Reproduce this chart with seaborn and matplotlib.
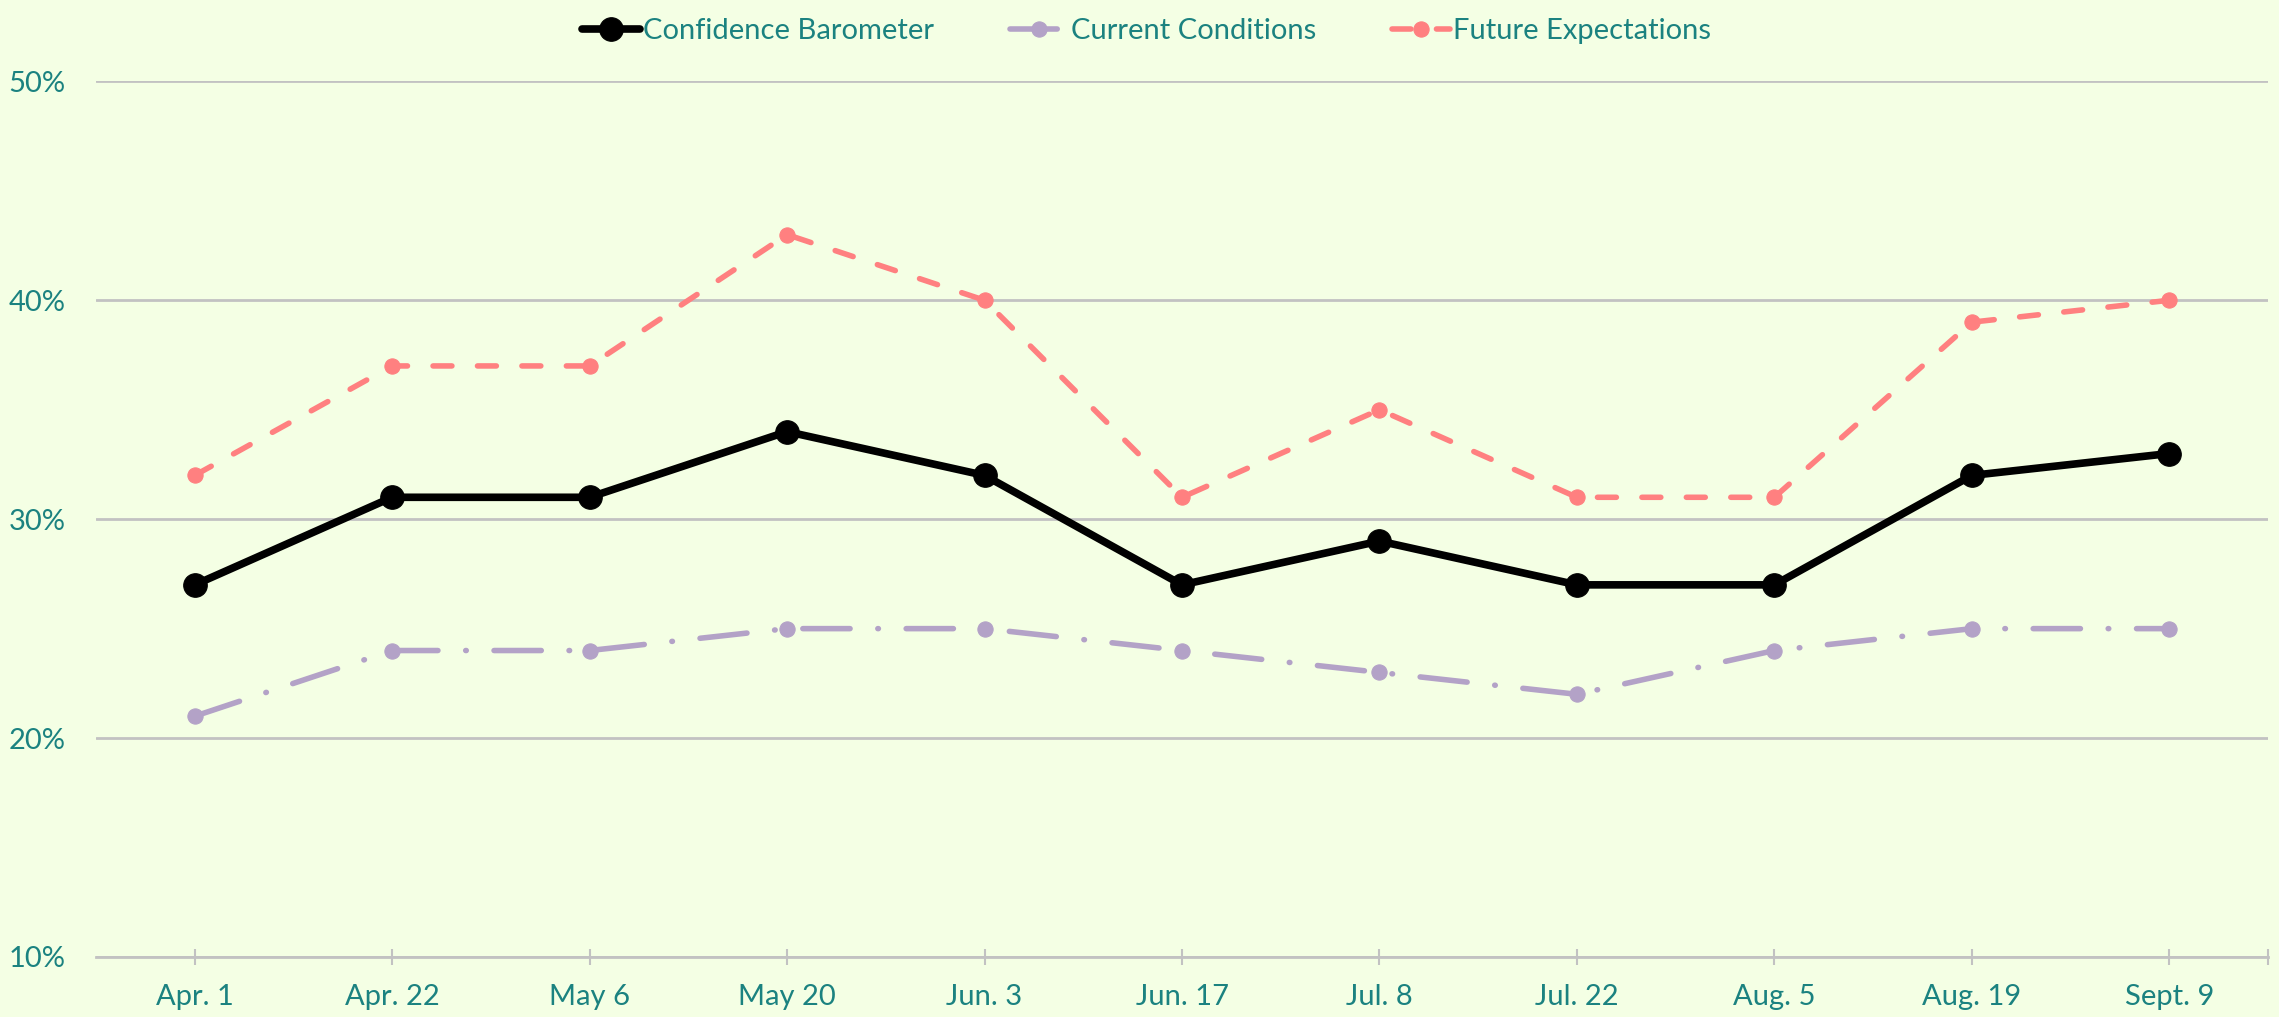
import numpy as np
import pandas as pd
import matplotlib
matplotlib.use("Agg")
import matplotlib.pyplot as plt
import seaborn as sns
from matplotlib.ticker import FuncFormatter

# ─── Data ──────────────────────────────────────────────────────────────────────

DATES = ["Apr. 1", "Apr. 22", "May 6", "May 20", "Jun. 3", "Jun. 17",
         "Jul. 8", "Jul. 22", "Aug. 5", "Aug. 19", "Sept. 9"]
CONFIDENCE = [27, 31, 31, 34, 32, 27, 29, 27, 27, 32, 33]
CURRENT = [21, 24, 24, 25, 25, 24, 23, 22, 24, 25, 25]
FUTURE = [32, 37, 37, 43, 40, 31, 35, 31, 31, 39, 40]
Y_TICKS = [10, 20, 30, 40, 50]

# ─── Style ─────────────────────────────────────────────────────────────────────

BG = "#F4FFE4"
TEXT = "#1B8280"
GRID = "#C2C2C2"

sns.set_theme(style="white")
plt.rcParams["font.family"] = ["Lato", "DejaVu Sans"]

df = pd.DataFrame({"date": DATES, "conf": CONFIDENCE,
                   "curr": CURRENT, "fut": FUTURE})

fig = plt.figure(figsize=(22.79, 10.17), dpi=100, facecolor=BG)
ax = fig.add_axes([0.0421, 0.059, 0.9531, 0.861])
ax.set_facecolor(BG)

sns.lineplot(data=df, x="date", y="conf", sort=False, ax=ax, color="black",
             lw=5.5, marker="o", ms=17, mec="black", solid_joinstyle="round",
             label="Confidence Barometer", zorder=5)
sns.lineplot(data=df, x="date", y="curr", sort=False, ax=ax, color="#B3A2C7",
             lw=4, marker="o", ms=11, mec="#B3A2C7", dashes=(8.5, 5, 0.1, 5),
             dash_capstyle="round", label="Current Conditions", zorder=4)
sns.lineplot(data=df, x="date", y="fut", sort=False, ax=ax, color="#FF8080",
             lw=4, marker="o", ms=11, mec="#FF8080", dashes=(3.4, 4.6),
             dash_capstyle="round", label="Future Expectations", zorder=4)

ax.set_xticks(np.arange(len(DATES)), labels=DATES)
ax.set_xticks([len(DATES) - 0.5], minor=True)
ax.set_xlim(-0.5, len(DATES) - 0.5)
ax.set_ylim(10, 50)
ax.set_yticks(Y_TICKS)
ax.yaxis.set_major_formatter(FuncFormatter(lambda v, p: f"{v:.0f}%"))
ax.set_xlabel("")
ax.set_ylabel("")

ax.grid(axis="y", color=GRID, lw=2)
ax.grid(axis="x", visible=False)
for side in ["left", "right", "top"]:
    ax.spines[side].set_visible(False)
ax.spines["bottom"].set_color(GRID)
ax.spines["bottom"].set_linewidth(2)

ax.tick_params(axis="x", which="both", bottom=True, direction="inout",
               length=11, width=1.5, color=GRID)
ax.tick_params(axis="x", labelsize=21, labelcolor=TEXT, pad=14)
ax.tick_params(axis="y", left=False, length=0, labelsize=21,
               labelcolor=TEXT, pad=22)

ax.legend_.remove()
handles, labels = ax.get_legend_handles_labels()
leg = fig.legend(handles, labels, loc="upper center",
                 bbox_to_anchor=(0.503, 1.008), ncol=3, frameon=False,
                 fontsize=21, handlelength=2.0, columnspacing=2.6,
                 handletextpad=0.1, markerscale=1.0)
for t in leg.get_texts():
    t.set_color(TEXT)

fig.savefig("out.png", dpi=100, facecolor=BG)
